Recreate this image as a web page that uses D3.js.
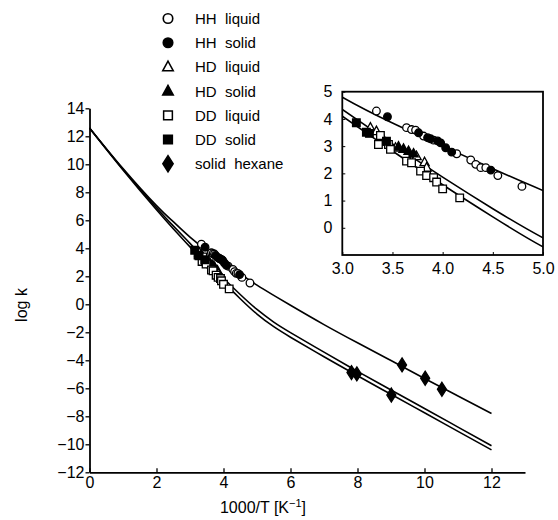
<!DOCTYPE html>
<html>
<head>
<meta charset="utf-8">
<script src="https://cdn.jsdelivr.net/npm/d3@7"></script>
<style>
  body { margin: 0; background: #fff; }
  text { font-family: "Liberation Sans", Arial, sans-serif; fill: #000; }
</style>
</head>
<body>
<div id="chart"></div>
<script>
// fitted curves (log k vs 1000/T)
const fitX = [0, 1, 2, 2.5, 3, 3.5, 4, 4.5, 5, 5.5, 6, 7, 8, 9, 10, 11, 12];
const fitHH = [12.6, 9.7, 7.05, 5.9, 4.8, 3.85, 3.0, 2.17, 1.37, 0.64, -0.07, -1.45, -2.75, -4.02, -5.3, -6.55, -7.8];
const fitHD = [12.6, 9.65, 6.9, 5.6, 4.35, 3.08, 1.86, 0.7, -0.37, -1.27, -2.02, -3.42, -4.79, -6.12, -7.44, -8.77, -10.1];
const fitDD = [12.6, 9.6, 6.75, 5.4, 4.1, 2.82, 1.58, 0.4, -0.7, -1.6, -2.35, -3.75, -5.1, -6.43, -7.75, -9.08, -10.4];

// measured points [1000/T, log k]
const hhLiquid = [[3.34, 4.29], [3.64, 3.68], [3.69, 3.61], [3.73, 3.59], [3.81, 3.37], [3.91, 3.22],
  [4.14, 2.72], [4.28, 2.49], [4.33, 2.33], [4.38, 2.21], [4.43, 2.21], [4.55, 1.92], [4.79, 1.52]];
const hhSolid = [[3.45, 4.08], [3.76, 3.49], [3.85, 3.31], [3.88, 3.27], [3.95, 3.19], [3.98, 3.12],
  [4.03, 2.94], [4.09, 2.78], [4.48, 2.12]];
const hdLiquid = [[3.28, 3.68], [3.34, 3.55], [3.53, 2.94], [3.74, 2.63], [3.82, 2.41], [3.84, 2.21]];
const hdSolid = [[3.41, 3.25], [3.56, 2.98], [3.61, 2.9], [3.66, 2.82], [3.71, 2.73]];
const ddLiquid = [[3.38, 3.39], [3.36, 3.06], [3.46, 3.06], [3.48, 2.88], [3.64, 2.45], [3.69, 2.39],
  [3.78, 2.08], [3.84, 1.92], [3.91, 1.84], [3.94, 1.68], [4.0, 1.43], [4.17, 1.1]];
const ddSolid = [[3.14, 3.86], [3.24, 3.51], [3.27, 3.47], [3.44, 3.18]];
const hexane = [[7.82, -4.88], [7.98, -4.97], [9.01, -6.48], [9.33, -4.33], [10.02, -5.28], [10.52, -6.07]];

const legendLabels = ["HH  liquid", "HH  solid", "HD  liquid", "HD  solid", "DD  liquid", "DD  solid", "solid  hexane"];
const mainXTicks = [0, 2, 4, 6, 8, 10, 12];
const mainYTicks = d3.range(-12, 15, 2);
const insetXTicks = [3.0, 3.5, 4.0, 4.5, 5.0];
const insetYTicks = [0, 1, 2, 3, 4, 5];

const series = [
  { data: hhLiquid, shape: "circle", filled: false },
  { data: hhSolid, shape: "circle", filled: true },
  { data: hdLiquid, shape: "triangle", filled: false },
  { data: hdSolid, shape: "triangle", filled: true },
  { data: ddLiquid, shape: "square", filled: false },
  { data: ddSolid, shape: "square", filled: true },
  { data: hexane, shape: "diamond", filled: true }
];

const width = 558, height = 520;
const svg = d3.select("#chart").append("svg")
  .attr("width", width).attr("height", height)
  .attr("viewBox", `0 0 ${width} ${height}`);
svg.append("rect").attr("width", width).attr("height", height).attr("fill", "#fff");

function markerPath(shape) {
  switch (shape) {
    case "circle": return "M3.8,0A3.8,3.8 0 1,1 -3.8,0A3.8,3.8 0 1,1 3.8,0Z";
    case "triangle": return "M0,-5L4.6,3.4L-4.6,3.4Z";
    case "square": return "M-3.8,-3.8H3.8V3.8H-3.8Z";
    case "diamond": return "M0,-7L4.5,0L0,7L-4.5,0Z";
  }
}

function drawPoints(g, x, y) {
  series.forEach(function (s) {
    g.append("g").selectAll("path")
      .data(s.data)
      .enter()
      .append("path")
      .attr("d", markerPath(s.shape))
      .attr("transform", (d) => `translate(${x(d[0])},${y(d[1])})`)
      .attr("fill", s.filled ? "#000" : "#fff")
      .attr("stroke", "#000")
      .attr("stroke-width", 1.3);
  });
}

function drawFits(g, x, y) {
  const line = d3.line()
    .x((d) => x(d[0]))
    .y((d) => y(d[1]))
    .curve(d3.curveNatural);
  [fitHH, fitHD, fitDD].forEach(function (f) {
    g.append("path")
      .datum(fitX.map((v, i) => [v, f[i]]))
      .attr("d", line)
      .attr("fill", "none")
      .attr("stroke", "#000")
      .attr("stroke-width", 1.6);
  });
}

// ---- main plot
const x = d3.scaleLinear().domain([0, 13]).range([89.5, 525]);
const y = d3.scaleLinear().domain([-12, 14]).range([472.3, 108.3]);

const gMain = svg.append("g");
drawFits(gMain, x, y);
drawPoints(gMain, x, y);

const yAxis = svg.append("g")
  .attr("transform", `translate(${x(0)},0)`)
  .call(d3.axisLeft(y).tickValues(mainYTicks).tickSize(4).tickSizeOuter(0).tickPadding(1));
yAxis.selectAll("text").style("font-size", "16px");

const xAxis = svg.append("g")
  .attr("transform", `translate(0,${y(-12)})`)
  .call(d3.axisBottom(x).tickValues(mainXTicks).tickSize(-4).tickSizeOuter(0).tickPadding(4));
xAxis.selectAll("text").style("font-size", "16px");

svg.selectAll(".domain").attr("stroke-width", 1.8);
svg.selectAll(".tick line").attr("stroke-width", 1.3);

const xTitle = svg.append("text")
  .attr("x", 263).attr("y", 513)
  .attr("text-anchor", "middle")
  .style("font-size", "16px");
xTitle.append("tspan").text("1000/T  [K");
xTitle.append("tspan").attr("dy", -6).style("font-size", "11px").text("\u22121");
xTitle.append("tspan").attr("dy", 6).text("]");

svg.append("text")
  .attr("transform", "translate(27,305) rotate(-90)")
  .attr("text-anchor", "middle")
  .style("font-size", "16px")
  .text("log k");

// ---- legend
const legend = svg.append("g").attr("transform", "translate(168,18.5)");
legendLabels.forEach(function (label, i) {
  const s = series[i];
  const row = legend.append("g").attr("transform", `translate(0,${i * 24.2})`);
  row.append("path")
    .attr("d", markerPath(s.shape))
    .attr("transform", s.shape === "circle" ? "scale(1.25)" : "scale(1.15)")
    .attr("fill", s.filled ? "#000" : "#fff")
    .attr("stroke", "#000")
    .attr("stroke-width", 1.3);
  row.append("text")
    .attr("x", 27).attr("dy", "0.36em")
    .style("font-size", "15px")
    .style("white-space", "pre")
    .text(label);
});

// ---- inset
const xi = d3.scaleLinear().domain([3, 5]).range([342.3, 543]);
const yi = d3.scaleLinear().domain([-1, 5]).range([255, 91.7]);

svg.append("clipPath").attr("id", "insetClip")
  .append("rect")
  .attr("x", xi(3)).attr("y", yi(5))
  .attr("width", xi(5) - xi(3)).attr("height", yi(-1) - yi(5));

svg.append("rect")
  .attr("x", xi(3)).attr("y", yi(5))
  .attr("width", xi(5) - xi(3)).attr("height", yi(-1) - yi(5))
  .attr("fill", "#fff");

const gInset = svg.append("g").attr("clip-path", "url(#insetClip)");
drawFits(gInset, xi, yi);
drawPoints(gInset, xi, yi);

svg.append("rect")
  .attr("x", xi(3)).attr("y", yi(5))
  .attr("width", xi(5) - xi(3)).attr("height", yi(-1) - yi(5))
  .attr("fill", "none")
  .attr("stroke", "#000")
  .attr("stroke-width", 1.8);

const yiAxis = svg.append("g")
  .attr("transform", `translate(${xi(3)},0)`)
  .call(d3.axisLeft(yi).tickValues(insetYTicks).tickSize(-3).tickSizeOuter(0).tickPadding(10).tickFormat(d3.format("d")));
yiAxis.select(".domain").remove();
yiAxis.selectAll("text").style("font-size", "16px");

const xiAxis = svg.append("g")
  .attr("transform", `translate(0,${yi(-1)})`)
  .call(d3.axisBottom(xi).tickValues(insetXTicks).tickSize(-3).tickSizeOuter(0).tickPadding(8).tickFormat(d3.format(".1f")));
xiAxis.select(".domain").remove();
xiAxis.selectAll("text").style("font-size", "16px");
</script>
</body>
</html>
